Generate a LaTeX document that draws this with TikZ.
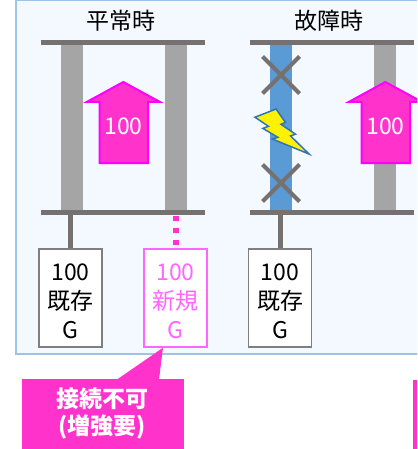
\documentclass[tikz,border=0pt]{standalone}
\usepackage{fontspec}
\setmainfont{Noto Sans CJK JP}
\definecolor{panelfill}{HTML}{F4F9FF}
\definecolor{panelline}{HTML}{9DC3E6}
\definecolor{busgray}{HTML}{767171}
\definecolor{linegray}{HTML}{A5A5A5}
\definecolor{lineblue}{HTML}{5B9BD5}
\definecolor{boxgray}{HTML}{7F7F7F}
\definecolor{pinkfill}{HTML}{FF33CC}
\definecolor{pinkline}{HTML}{FF00FF}
\definecolor{newpink}{HTML}{FF66FF}
\definecolor{boltline}{HTML}{2E75B6}
\tikzset{
  bar/.style={rectangle, inner sep=0pt, outer sep=0pt, draw=none},
  bus/.style={bar, fill=busgray, minimum width=164pt, minimum height=5pt},
  feeder/.style={bar, minimum width=22pt, minimum height=165pt},
  gbox/.style={rectangle, draw=boxgray, line width=1.5pt, fill=white, minimum width=63pt, minimum height=98pt, inner sep=0pt},
  newbox/.style={gbox, draw=newpink},
  gtext/.style={inner sep=0pt, align=center, font=\fontsize{23}{29}\selectfont},
  newtext/.style={gtext, text=newpink},
  title/.style={font=\fontsize{23}{28}\selectfont, inner sep=0pt},
  flowarrow/.style={fill=pinkfill, draw=pinkline, line width=2pt, line join=miter},
  flowtext/.style={text=white, font=\fontsize{23}{28}\selectfont, inner sep=0pt},
  tie/.style={draw=busgray, line width=5pt},
  cross/.style={draw=busgray, line width=4pt},
  callout/.style={fill=pinkfill},
  callouttext/.style={text=white, font=\bfseries\fontsize{23}{27}\selectfont, align=center, inner sep=0pt}
}
\begin{document}
\begin{tikzpicture}[x=1pt, y=-1pt]
\useasboundingbox (0,0) rectangle (417,449);
\clip (0,0) rectangle (417,449);
\fill[white] (0,0) rectangle (417,449);
% panel
\draw[fill=panelfill, draw=panelline, line width=1.5pt] (16,0.5) rectangle (430,354);
% titles
\node[title] (t1) at (121,21) {平常時};
\node[title] (t2) at (329,21) {故障時};
% normal state
\node[feeder, fill=linegray] (f1a) at (72,127.5) {};
\node[feeder, fill=linegray] (f1b) at (176,127.5) {};
\node[bus] (bt1) at (123,42.5) {};
\node[bus] (bb1) at (123,212.5) {};
\node[gbox] (g1) at (70.5,298) {};
\node[gtext] (g1t) at ([yshift=-3pt]g1.center) {100\\既存\\G};
\node[newbox] (g2) at (175.5,298) {};
\node[newtext] (g2t) at ([yshift=-3pt]g2.center) {100\\新規\\G};
\draw[tie] (g1.north) -- (g1.north |- bb1.south);
\draw[draw=pinkfill, line width=6pt, dash pattern=on 5.5pt off 6.5pt] (f1b.center |- bb1.south) ++(0,0.5) -- (f1b.center |- g2.north);
\draw[flowarrow] (123.3,82) -- (160,102) -- (148,102) -- (148,163) -- (99.5,163) -- (99.5,102) -- (86.7,102) -- cycle;
\node[flowtext] (a1) at (123.5,126) {100};
% fault state
\node[feeder, fill=lineblue] (f2a) at (281,127.5) {};
\node[feeder, fill=linegray] (f2b) at (385,127.5) {};
\node[bus] (bt2) at (332,42.5) {};
\node[bus] (bb2) at (332,212.5) {};
\node[gbox] (g3) at (280,298) {};
\node[gtext] (g3t) at ([yshift=-3pt]g3.center) {100\\既存\\G};
\draw[tie] (g3.north) -- (g3.north |- bb2.south);
\draw[cross] (262.5,56.5) -- (299.5,93.5) (299.5,56.5) -- (262.5,93.5);
\draw[cross] (262.5,164.5) -- (299.5,201.5) (299.5,164.5) -- (262.5,201.5);
\draw[fill=yellow, draw=boltline, line width=1.5pt, line join=miter]
  (276.1,109) -- (285.4,122.4) -- (281.0,124.3) -- (295.5,134.2) -- (290.5,135.9) -- (309,154)
  -- (272.5,139.1) -- (277.9,137.3) -- (262.9,128.4) -- (268.4,126.3) -- (255,117.2) -- cycle;
\draw[flowarrow] (385.3,82) -- (422,102) -- (410,102) -- (410,163) -- (361.5,163) -- (361.5,102) -- (348.7,102) -- cycle;
\node[flowtext] (a2) at (385.5,126) {100};
% callouts
\fill[callout] (22,379) rectangle (184,460);
\fill[callout] (117,379.5) -- (g2.south -| 163,0) -- (159,379.5) -- cycle;
\node[callouttext] (c1) at (102,414) {接続不可\\(増強要)};
\fill[callout] (413,380) rectangle (440,460);
\end{tikzpicture}
\end{document}
